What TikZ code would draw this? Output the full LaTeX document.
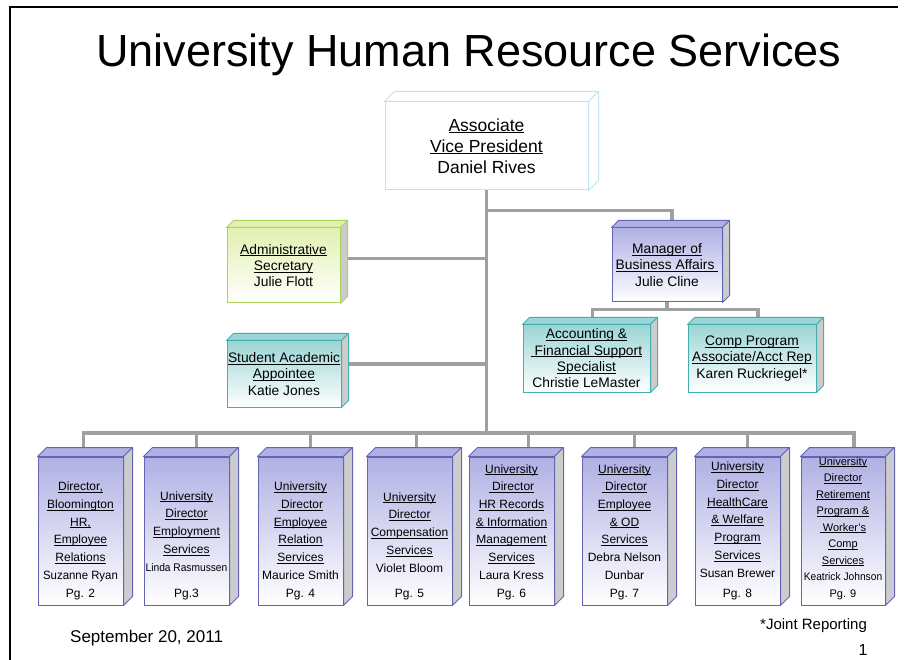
\documentclass[tikz,border=0pt]{standalone}
\usepackage{fontspec}
\setmainfont{Liberation Sans}
\usepackage{graphicx}
\usetikzlibrary{backgrounds}
\definecolor{purptop}{HTML}{B0B0E4}
\definecolor{purpline}{HTML}{6464B6}
\definecolor{tealtop}{HTML}{9CD5D5}
\definecolor{tealline}{HTML}{44AEAE}
\definecolor{greentop}{HTML}{E2F0B0}
\definecolor{greenline}{HTML}{AED35A}
\definecolor{avpline}{HTML}{BDE5EC}
\definecolor{linkgray}{HTML}{A0A0A0}
\definecolor{sidegray}{HTML}{CCCCCC}
\newcommand{\und}[1]{\underline{\raisebox{0pt}[\height][0pt]{#1}}}

\begin{document}
\begin{tikzpicture}[x=1pt,y=1pt]
\useasboundingbox (0,0) rectangle (908,-660);
\tikzstyle{every node}+=[inner sep=0pt]
\tikzstyle{link}=[draw=linkgray,line width=3.5pt]
\tikzstyle{midbox}=[line width=1pt,bottom color=white,align=center,font={\fontsize{13.8}{16.3}\selectfont\lineskiplimit=-20pt}]
\tikzstyle{deptbox}=[draw=purpline,line width=1pt,top color=purptop,bottom color=white,minimum width=85pt,minimum height=148pt,font={\fontsize{12}{17.7}\selectfont\lineskiplimit=-20pt}]
\draw[line width=1.5pt] (10,-660) -- (10,-7) -- (898,-7);
\node[anchor=base,font={\fontsize{45}{45}\selectfont}] (head) at (469,-67) {University Human Resource Services};
\node[draw=avpline,line width=1pt,fill=white,minimum width=203pt,minimum height=88pt,align=center,font={\fontsize{17.5}{21}\selectfont}] (avp) at (486.5,-146) {\und{Associate}\\\und{Vice President}\\Daniel Rives};
\node[midbox,draw=greenline,top color=greentop,minimum width=113pt,minimum height=75pt] (sec) at (283.5,-265.5) {\und{Administrative}\\\und{Secretary}\\Julie Flott};
\node[midbox,draw=tealline,top color=tealtop,minimum width=114pt,minimum height=66pt] (stu) at (284,-374) {\und{Student Academic}\\\und{Appointee}\\Katie Jones};
\node[midbox,draw=purpline,top color=purptop,minimum width=110pt,minimum height=74pt] (mgr) at (667,-265) {\und{Manager of}\\\und{Business Affairs\ }\\Julie Cline};
\node[midbox,draw=tealline,top color=tealtop,minimum width=127pt,minimum height=67pt] (acc) at (586.5,-358.5) {\und{Accounting \&}\\\und{\ Financial Support}\\\und{Specialist}\\Christie LeMaster};
\node[midbox,draw=tealline,top color=tealtop,minimum width=128pt,minimum height=67pt] (cmp) at (752,-358.5) {\und{Comp Program}\\\und{Associate/Acct Rep}\\Karen Ruckriegel*};
\node[deptbox] (bx1) at (80.5,-531) {\parbox[c][148pt][b]{85pt}{\centering\und{Director,}\\\und{Bloomington}\\\und{HR,}\\\und{Employee}\\\und{Relations}\\\scalebox{0.95}[1]{Suzanne Ryan}\\Pg. 2\par\vspace{5.5pt}}};
\node[deptbox] (bx2) at (186.5,-531) {\parbox[c][148pt][b]{85pt}{\centering\und{University}\\\und{Director}\\\und{Employment}\\\und{Services}\\\scalebox{0.85}[0.92]{Linda Rasmussen}\\[8.3pt]Pg.3\par\vspace{5.5pt}}};
\node[deptbox] (bx3) at (300.5,-531) {\parbox[c][148pt][b]{85pt}{\centering\und{University}\\\und{\ Director}\\\und{Employee}\\\und{Relation}\\\und{Services}\\Maurice Smith\\Pg. 4\par\vspace{5.5pt}}};
\node[deptbox] (bx4) at (409.5,-531) {\parbox[c][148pt][b]{85pt}{\centering\und{University}\\\und{Director}\\\und{Compensation}\\\und{Services}\\Violet Bloom\\[7.3pt]Pg. 5\par\vspace{5.5pt}}};
\node[deptbox] (bx5) at (511.5,-531) {\parbox[c][148pt][b]{85pt}{\centering\und{University}\\\und{\ Director}\\\und{HR Records}\\\und{\& Information}\\\und{Management}\\\und{Services}\\Laura Kress\\Pg. 6\par\vspace{5.5pt}}};
\node[deptbox] (bx6) at (624.5,-531) {\parbox[c][148pt][b]{85pt}{\centering\und{University}\\\und{\ Director}\\\und{Employee}\\\und{\& OD}\\\und{Services}\\Debra Nelson\\Dunbar\\Pg. 7\par\vspace{5.5pt}}};
\node[deptbox] (bx7) at (737.5,-531) {\parbox[c][148pt][b]{85pt}{\centering\und{University}\\\und{Director}\\\und{HealthCare}\\\und{\& Welfare}\\\und{Program}\\\und{Services}\\Susan Brewer\\[2.3pt]Pg. 8\par\vspace{5.5pt}}};
\node[deptbox,minimum width=84pt,font={\fontsize{11}{16.5}\selectfont\lineskiplimit=-20pt}] (bx8) at (843,-531) {\parbox[c][148pt][b]{84pt}{\centering\und{University}\\\und{Director}\\\und{Retirement}\\\und{Program \&}\\\und{\ Worker’s}\\\und{Comp}\\\und{Services}\\\scalebox{0.93}[1]{Keatrick Johnson}\\Pg. 9\par\vspace{5.5pt}}};
\foreach \n/\c/\f/\s/\d in {avp/avpline/white/white/10, sec/greenline/greentop/sidegray/7, stu/tealline/tealtop/sidegray/7, mgr/purpline/purptop/sidegray/7, acc/tealline/tealtop/sidegray/7, cmp/tealline/tealtop/sidegray/7, bx1/purpline/purptop/sidegray/9, bx2/purpline/purptop/sidegray/9, bx3/purpline/purptop/sidegray/9, bx4/purpline/purptop/sidegray/9, bx5/purpline/purptop/sidegray/9, bx6/purpline/purptop/sidegray/9, bx7/purpline/purptop/sidegray/9, bx8/purpline/purptop/sidegray/9}{
  \filldraw[draw=\c,fill=\f,line width=1pt,line join=round] (\n.north west) -- ++(\d,\d) -- ([shift={(\d,\d)}]\n.north east) -- (\n.north east) -- cycle;
  \filldraw[draw=\c,fill=\s,line width=1pt,line join=round] (\n.north east) -- ++(\d,\d) -- ([shift={(\d,\d)}]\n.south east) -- (\n.south east) -- cycle;
}
\begin{pgfonlayer}{background}
\coordinate (bus) at (486.5,-433);
\draw[link] (avp.south) -- (bus);
\draw[link] (avp.south) ++(0,-20) -| ([xshift=5]mgr.north);
\draw[link] ([yshift=7]sec.east) -- ([yshift=7]sec.east -| avp.south);
\draw[link] ([yshift=10]stu.east) -- ([yshift=10]stu.east -| avp.south);
\draw[link] (mgr.south) -- ++(0,-7) -| ([xshift=6]acc.north);
\draw[link] (mgr.south) ++(0,-7) -| ([xshift=6]cmp.north);
\foreach \b/\s in {bx1/3,bx2/10,bx3/10,bx4/7,bx5/17,bx6/10,bx7/10,bx8/11}
  \draw[link] ([xshift=\s]\b.north) |- (bus);
\end{pgfonlayer}
\node[anchor=base west,font={\fontsize{17}{17}\selectfont}] (date) at (70,-642) {September 20, 2011};
\node[anchor=base west,font={\fontsize{15}{15}\selectfont}] (joint) at (760,-629.5) {*Joint Reporting};
\node[anchor=base,font={\fontsize{16}{16}\selectfont}] (pageno) at (863,-655) {1};
\end{tikzpicture}
\end{document}
